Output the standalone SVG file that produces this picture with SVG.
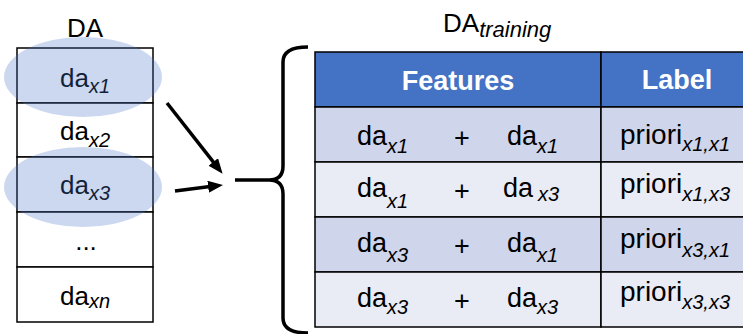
<svg xmlns="http://www.w3.org/2000/svg" width="743" height="334" viewBox="0 0 743 334">
<style>
text{font-family:"Liberation Sans",Arial,sans-serif;fill:#000}
.m{font-size:27px}
.p{font-size:28px}
.l{font-size:26px}
.s{font-size:20px;font-style:italic}
.h{font-size:27px;font-weight:bold;fill:#fff}
.cell{stroke:#000;stroke-width:1.5}
.box{fill:#fff;stroke:#000;stroke-width:1.5}
.hl{fill:#4472c4;fill-opacity:0.28}
.conn{stroke:#000;stroke-width:3.5;fill:none}
</style>
<defs>
<marker id="ah" markerUnits="userSpaceOnUse" markerWidth="16" markerHeight="12" refX="4" refY="6" orient="auto">
<path d="M0,0 L15,6 L0,12 z" fill="#000"/>
</marker>
</defs>
<rect width="743" height="334" fill="#fff"/>

<g id="da-list">
<text class="l" x="85" y="37" text-anchor="middle">DA</text>
<g id="da-x1"><rect class="box" x="17" y="48" width="136" height="55"/><text class="l" x="85" y="87" text-anchor="middle">da<tspan class="s" dy="6">x1</tspan></text></g>
<g id="da-x2"><rect class="box" x="17" y="103" width="136" height="54"/><text class="l" x="85" y="140" text-anchor="middle">da<tspan class="s" dy="7">x2</tspan></text></g>
<g id="da-x3"><rect class="box" x="17" y="157" width="136" height="55"/><text class="l" x="85" y="194" text-anchor="middle">da<tspan class="s" dy="6">x3</tspan></text></g>
<g id="da-dots"><rect class="box" x="17" y="212" width="136" height="55"/><text class="l" x="86" y="250" text-anchor="middle">...</text></g>
<g id="da-xn"><rect class="box" x="17" y="267" width="136" height="55"/><text class="l" x="85" y="305" text-anchor="middle">da<tspan class="s" dy="3">xn</tspan></text></g>
<ellipse class="hl" cx="83" cy="77" rx="79" ry="40"/>
<ellipse class="hl" cx="83" cy="187" rx="79" ry="40"/>
</g>

<g id="connectors">
<line class="conn" x1="167" y1="103" x2="215.8" y2="165.1" marker-end="url(#ah)"/>
<line class="conn" x1="175" y1="191" x2="212.1" y2="186.3" marker-end="url(#ah)"/>
<path class="conn" stroke-width="4" d="M308,47 Q283,47 283,62 L283,166 Q283,180 269,180 L235,180 M269,180 Q283,180 283,194 L283,318 Q283,333 308,333"/>
</g>

<g id="da-training">
<text x="443" y="32" style="font-size:26px">DA<tspan style="font-size:22px;font-style:italic" dy="5">training</tspan></text>
<g id="header">
<rect class="cell" x="315" y="52" width="286" height="55" fill="#4472c4"/>
<rect class="cell" x="601" y="52" width="160" height="55" fill="#4472c4"/>
<text class="h" x="458" y="90" text-anchor="middle">Features</text>
<text class="h" x="677" y="89" text-anchor="middle">Label</text>
</g>
<g id="row1">
<rect class="cell" x="315" y="107" width="286" height="55" fill="#cfd5ea"/>
<rect class="cell" x="601" y="107" width="160" height="55" fill="#cfd5ea"/>
<text class="m" x="357" y="145">da<tspan class="s" dy="8">x1</tspan></text>
<text class="m" x="462" y="147" text-anchor="middle">+</text>
<text class="m" x="507" y="145">da<tspan class="s" dy="8">x1</tspan></text>
<text class="p" x="620" y="144">priori<tspan class="s" dy="7">x1,x1</tspan></text>
</g>
<g id="row2">
<rect class="cell" x="315" y="162" width="286" height="55" fill="#e9ebf5"/>
<rect class="cell" x="601" y="162" width="160" height="55" fill="#e9ebf5"/>
<text class="m" x="357" y="197">da<tspan class="s" dy="11">x1</tspan></text>
<text class="m" x="462" y="200" text-anchor="middle">+</text>
<text class="m" x="503" y="197">da<tspan class="s" dx="5" dy="4">x3</tspan></text>
<text class="p" x="620" y="193">priori<tspan class="s" dy="8">x1,x3</tspan></text>
</g>
<g id="row3">
<rect class="cell" x="315" y="217" width="286" height="55" fill="#cfd5ea"/>
<rect class="cell" x="601" y="217" width="160" height="55" fill="#cfd5ea"/>
<text class="m" x="357" y="252">da<tspan class="s" dy="10">x3</tspan></text>
<text class="m" x="462" y="255" text-anchor="middle">+</text>
<text class="m" x="507" y="252">da<tspan class="s" dy="10">x1</tspan></text>
<text class="p" x="620" y="248">priori<tspan class="s" dy="9">x3,x1</tspan></text>
</g>
<g id="row4">
<rect class="cell" x="315" y="272" width="286" height="55" fill="#e9ebf5"/>
<rect class="cell" x="601" y="272" width="160" height="55" fill="#e9ebf5"/>
<text class="m" x="357" y="307">da<tspan class="s" dy="7">x3</tspan></text>
<text class="m" x="462" y="310" text-anchor="middle">+</text>
<text class="m" x="507" y="307">da<tspan class="s" dy="7">x3</tspan></text>
<text class="p" x="620" y="301">priori<tspan class="s" dy="8">x3,x3</tspan></text>
</g>
</g>
</svg>
